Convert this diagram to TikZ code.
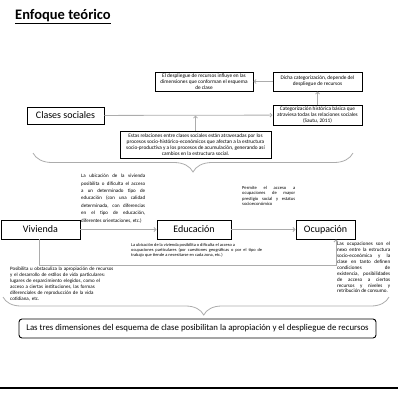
\documentclass[tikz,border=0pt]{standalone}
\usepackage{fontspec}
\setmainfont{Carlito}
\usetikzlibrary{arrows.meta,decorations.pathreplacing}
\hyphenpenalty=10000
\exhyphenpenalty=10000
\tolerance=9999
\emergencystretch=4pt

\tikzset{
  box/.style={draw, line width=1pt, fill=white, inner sep=1pt, align=center, font=\fontsize{5.3}{5.9}\selectfont},
  bigbox/.style={draw, line width=0.9pt, inner sep=1pt, font=\fontsize{10}{11}\selectfont},
  note/.style={inner sep=0pt, anchor=north west},
  link/.style={draw=gray!65, line width=0.8pt, -{Straight Barb[length=2pt,width=4pt]}},
  curly/.style={draw=gray!65, line width=0.8pt, decorate, decoration={brace, amplitude=#1}}
}

\begin{document}
\begin{tikzpicture}[x=1pt, y=-1pt]
  \useasboundingbox (0,0) rectangle (398,394);

  % Title
  \node[anchor=west, inner sep=0pt, font=\fontsize{14.5}{16}\bfseries\selectfont] (titulo) at (15,17) {\underline{Enfoque teórico}};

  % Define boxes of the upper part
  \node[box, minimum width=98pt, minimum height=19pt] (despliegue) at (204,81.5)
    {El despliegue de recursos influye en las\\ dimensiones que conforman el esquema\\ de clase};
  \node[box, minimum width=89pt, minimum height=19pt] (dicha) at (317.5,81.5)
    {Dicha categorización, depende del\\ despliegue de recursos};
  \node[box, minimum width=89pt, minimum height=20pt] (categ) at (317.5,115)
    {Categorización histórica básica que\\ atraviesa todas las relaciones sociales\\ (Sautu, 2011)};
  \node[bigbox, minimum width=77pt, minimum height=17pt] (clases) at (65.5,115.5) {Clases sociales};
  \node[box, minimum width=151pt, minimum height=27pt, font=\fontsize{5.3}{6.2}\selectfont] (estas) at (195.5,144.5)
    {Estas relaciones entre clases sociales están atravesadas por los\\ procesos socio-histórico-económicos que afectan a la estructura\\ socio-productiva y a los procesos de acumulación, generando así\\ cambios en la estructura social.};

  % Define boxes of the three dimensions
  \node[bigbox, minimum width=79pt, minimum height=19pt] (vivienda) at (40.5,229.5) {Vivienda};
  \node[bigbox, minimum width=74pt, minimum height=19pt] (educacion) at (194,229.5) {Educación};
  \node[bigbox, minimum width=59pt, minimum height=19pt] (ocupacion) at (325.5,229.5) {Ocupación};

  % Notes
  \node[note, text width=64pt, align=justify, font=\fontsize{5}{7.4}\selectfont] (nvivienda) at (81,174)
    {La ubicación de la vivienda posibilita o dificulta el acceso a un determinado tipo de educación (con una calidad determinada, con diferencias en el tipo de educación, diferentes orientaciones, etc.)};
  \node[note, text width=53pt, align=justify, font=\fontsize{4.6}{5.5}\selectfont] (neducacion) at (242,186)
    {Permite el acceso a ocupaciones de mayor prestigio social y estatus socioeconómico};
  \node[note, text width=131pt, align=justify, font=\fontsize{4.4}{5.2}\selectfont] (nzona) at (131,243)
    {La ubicación de la vivienda posibilita o dificulta el acceso a\\ ocupaciones particulares (por cuestiones geográficas o por el tipo de trabajo que tiende a necesitarse en cada zona, etc.)};
  \node[note, text width=53pt, align=justify, font=\fontsize{5.1}{5.9}\selectfont] (nocupacion) at (337,242)
    {Las ocupaciones son el nexo entre la estructura socio-económica y la\linebreak clase en tanto definen\linebreak condiciones de\linebreak existencia, posibilidades de acceso a ciertos recursos y niveles y\linebreak retribución de consumo.};
  \node[note, text width=106pt, align=left, font=\fontsize{5}{5.9}\selectfont] (nrecursos) at (10,267)
    {Posibilita u obstaculiza la apropiación de recursos\\ y el desarrollo de estilos de vida particulares:\\ lugares de esparcimiento elegidos, como el\\ acceso a ciertas instituciones, las formas\\ diferenciales de reproducción de la vida\\ cotidiana, etc.};

  % Final box
  \node[draw, line width=0.9pt, rounded corners=3pt, minimum width=357pt, minimum height=19pt, font=\fontsize{8.8}{10}\selectfont] (final) at (197.5,328.5)
    {Las tres dimensiones del esquema de clase posibilitan la apropiación y el despliegue de recursos};

  % Draw connectors between the nodes
  \draw[link] (dicha) -- (despliegue);
  \draw[link] (categ) -- (dicha);
  \draw[link] (clases) -- (categ);
  \draw[link] (estas.north) -- (estas.north |- clases);
  \foreach \a/\b in {vivienda/educacion, educacion/ocupacion}
    \draw[link] (\a) -- (\b);
  \coordinate (vbajo) at (39,265);
  \coordinate (obajo) at (336,265);
  \draw[link] (vbajo |- vivienda.south) -- (vbajo) -- (obajo) -- (obajo |- ocupacion.south);

  % Braces
  \coordinate (b1a) at (353,153);
  \coordinate (b1b) at (33,153);
  \draw[curly=19pt] (b1a) -- (b1b);
  \coordinate (b2a) at (389,297);
  \coordinate (b2b) at (3,297);
  \draw[curly=18pt, decoration={aspect=0.48}] (b2a) -- (b2b);

  % Bottom rule
  \draw[line width=1.5pt] (0,388) -- (398,388);
\end{tikzpicture}
\end{document}
